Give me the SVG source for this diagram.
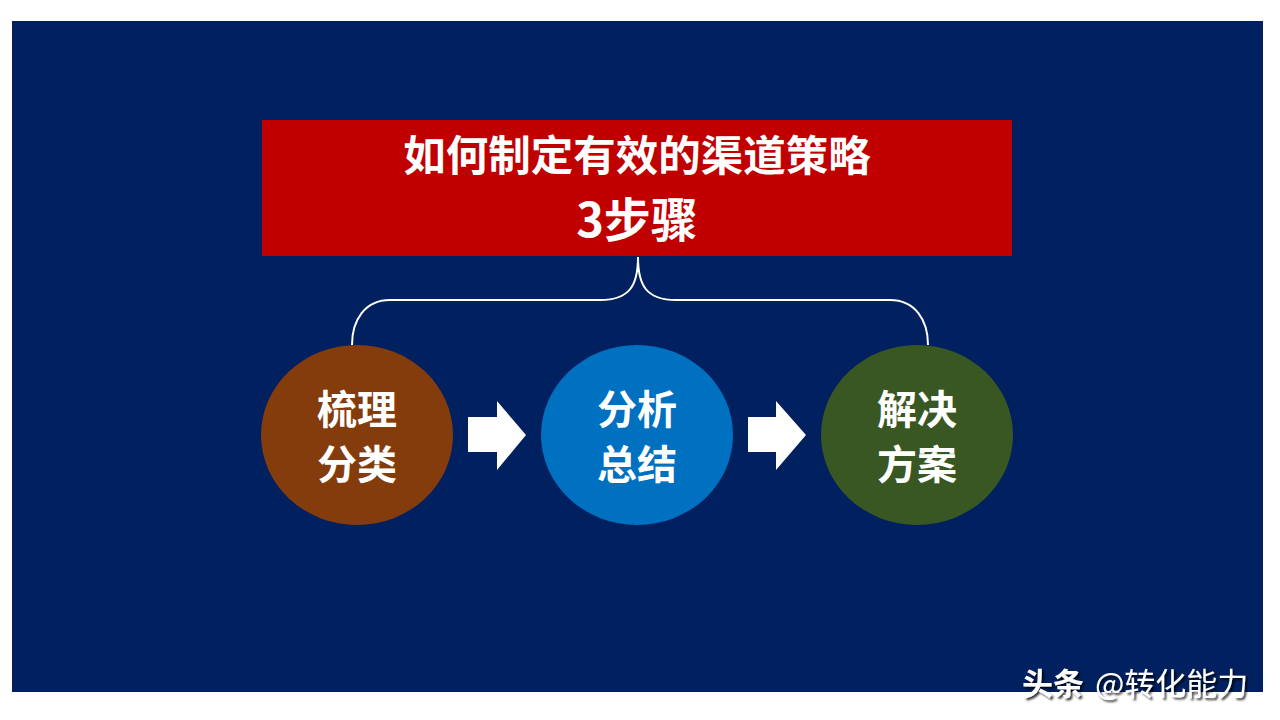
<svg xmlns="http://www.w3.org/2000/svg" width="1280" height="720" viewBox="0 0 1280 720">
<defs>
<style>
.t{fill:#fff;font-family:"Noto Sans CJK SC","Noto Sans",sans-serif;font-weight:bold;text-anchor:middle}
.brace{fill:none;stroke:#fff;stroke-width:2}
.arrow{fill:#fff}
</style>
<filter id="sh" x="-10%" y="-20%" width="120%" height="150%">
<feDropShadow dx="2" dy="2" stdDeviation="1" flood-color="#000" flood-opacity="0.8"/>
</filter>
</defs>
<rect width="1280" height="720" fill="#fff"/>
<rect x="12" y="21" width="1251" height="671" fill="#002060"/>
<g id="title">
<rect x="262" y="120" width="750" height="136" fill="#C00000"/>
<text class="t" x="637" y="171" font-size="42.5">如何制定有效的渠道策略</text>
<text class="t" x="637" y="237" font-size="47">3步骤</text>
</g>
<g id="connectors">
<path class="brace" d="M638,257 C638,285 630,300 600,300 L390,300 C365,300 352,320 352,345"/>
<path class="brace" d="M638,257 C638,285 646,300 676,300 L890,300 C915,300 928,320 928,345"/>
<polygon class="arrow" points="468,417 497,417 497,401 526,435 497,470 497,452 468,452"/>
<polygon class="arrow" points="748,417 776,417 776,401 806,435 776,470 776,452 748,452"/>
</g>
<g id="step1">
<ellipse cx="357" cy="435" rx="96" ry="90" fill="#843C0C"/>
<text class="t" x="357" y="424" font-size="40">梳理</text>
<text class="t" x="357" y="479" font-size="40">分类</text>
</g>
<g id="step2">
<ellipse cx="637" cy="435" rx="96" ry="90" fill="#0070C0"/>
<text class="t" x="637" y="424" font-size="40">分析</text>
<text class="t" x="637" y="479" font-size="40">总结</text>
</g>
<g id="step3">
<ellipse cx="917" cy="435" rx="96" ry="90" fill="#385723"/>
<text class="t" x="917" y="424" font-size="40">解决</text>
<text class="t" x="917" y="479" font-size="40">方案</text>
</g>
<g id="watermark" filter="url(#sh)">
<text x="1022" y="695" font-size="31" fill="#fff" font-family="'Noto Sans CJK SC',sans-serif" font-weight="bold">头条</text>
<text x="1095" y="695" font-size="31" fill="#fff" font-family="'Noto Sans CJK SC',sans-serif">@转化能力</text>
</g>
</svg>
